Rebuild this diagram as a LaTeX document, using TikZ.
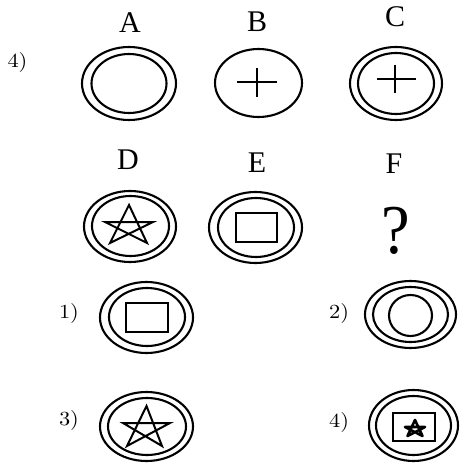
\documentclass[tikz,border=0pt]{standalone}
\usepackage{fontspec}
\newfontfamily\tms{Liberation Serif}
\newfontfamily\lmr{lmroman10-regular}[Extension=.otf]
\newcommand\wide[1]{\scalebox{1.12}[1]{#1}}
\begin{document}
\begin{tikzpicture}[x=1bp,y=-1bp,line width=2bp,
  lbl/.style={font=\tms\fontsize{30bp}{30bp}\selectfont,anchor=base,inner sep=0pt},
  num/.style={font=\lmr\fontsize{20bp}{20bp}\selectfont,anchor=base,inner sep=0pt},
  fig/.style={line width=2.1bp},
  inn/.style={line width=2bp, line join=miter}]
\useasboundingbox (0,0) rectangle (461,464);
% labels
\node[num] (q) at (17.5,67.5) {\wide{4)}};
\node[lbl] (la) at (130,32.3) {A};
\node[lbl] (lb) at (257,31.7) {B};
\node[lbl] (lc) at (395,26.5) {C};
\node[lbl] (ld) at (128,170) {D};
\node[lbl] (le) at (257,172.7) {E};
\node[lbl] (lf) at (394,173.3) {F};
\node[anchor=base,inner sep=0pt,font=\tms\fontsize{70bp}{70bp}\selectfont] (qm) at (396,253) {\scalebox{0.92}[1]{?}};
\node[num] (o1) at (69,318.5) {\wide{1)}};
\node[num] (o2) at (339,318.5) {\wide{2)}};
\node[num] (o3) at (69,425.5) {\wide{3)}};
\node[num] (o4) at (339,427) {\wide{4)}};
% A
\draw[fig] (129,83.5) ellipse [x radius=47,y radius=36.5];
\draw[fig] (129,83.5) ellipse [x radius=37.5,y radius=29.5];
% B
\draw[fig] (258.5,83) ellipse [x radius=43.5,y radius=34];
\draw[inn] (237,82) -- (277,82) (257,68) -- (257,97);
% C
\draw[fig] (396,83.5) ellipse [x radius=46,y radius=36.5];
\draw[fig] (396,83.5) ellipse [x radius=38,y radius=30.5];
\draw[inn] (377,79) -- (416,79) (395,65) -- (395,93);
% D
\draw[fig] (130,226.5) ellipse [x radius=46,y radius=35.5];
\draw[fig] (130.5,226) ellipse [x radius=38.5,y radius=30];
\draw[inn] (110,243) -- (129,205) -- (147,243) -- (105,222) -- (153,222) -- cycle;
% E
\draw[fig] (255.5,227.5) ellipse [x radius=46.5,y radius=35.5];
\draw[fig] (256,227.5) ellipse [x radius=38,y radius=29.5];
\draw[inn] (236,213) rectangle (277,242);
% option 1
\draw[fig] (146.5,317.5) ellipse [x radius=46.5,y radius=35.5];
\draw[fig] (147,317) ellipse [x radius=38,y radius=29];
\draw[inn] (126,303) rectangle (168,332);
% option 2
\draw[fig] (410.5,314.5) ellipse [x radius=45.5,y radius=33.5];
\draw[fig] (410.5,314.5) ellipse [x radius=37.5,y radius=27.5];
\draw[fig] (410.5,315.5) ellipse [x radius=21.5,y radius=20.5];
% option 3
\draw[fig] (146.5,426.5) ellipse [x radius=46.5,y radius=34.5];
\draw[fig] (147,426.5) ellipse [x radius=39,y radius=28.5];
\draw[inn] (127,446) -- (146.5,406) -- (162,446) -- (123,423) -- (170,423) -- cycle;
% option 4
\draw[fig] (413.5,425.5) ellipse [x radius=44.5,y radius=35.5];
\draw[fig] (413.5,425.5) ellipse [x radius=37.5,y radius=29.5];
\draw[inn] (393,413) rectangle (435,441);
\draw[line width=2.6bp,line join=round] (407.5,436) -- (415,420) -- (422.5,436) -- (405,427) -- (425,427) -- cycle;
\end{tikzpicture}
\end{document}
